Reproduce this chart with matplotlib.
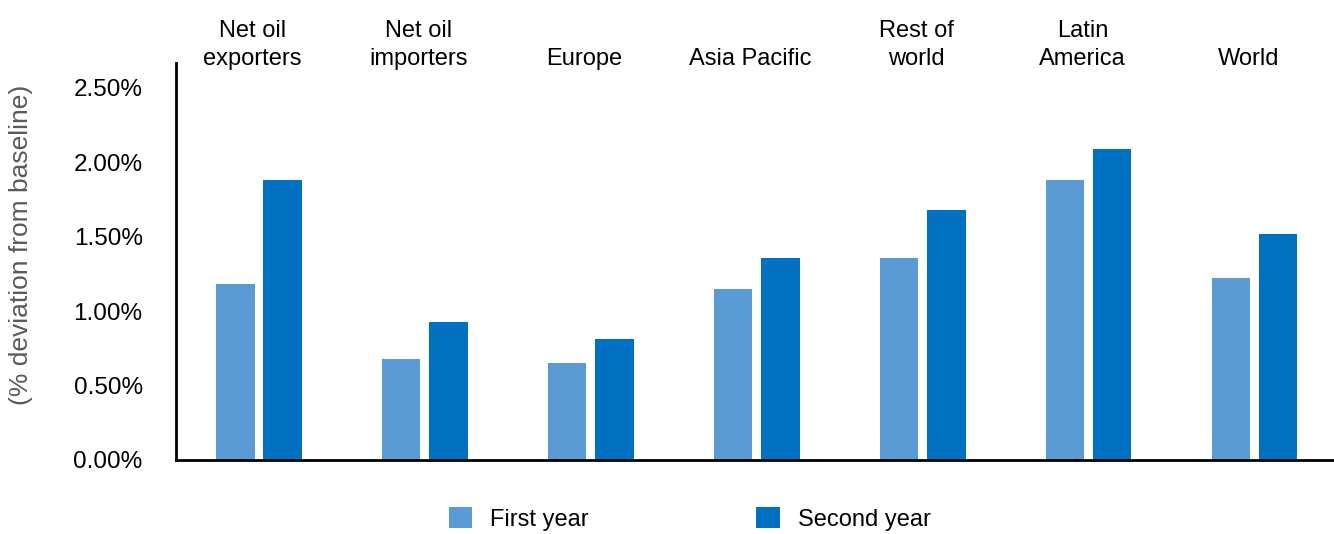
import numpy as np
import matplotlib
matplotlib.use("Agg")
import matplotlib.pyplot as plt
from matplotlib.patches import Patch
from matplotlib.ticker import FuncFormatter

plt.rcParams["font.family"] = ["Liberation Sans", "DejaVu Sans"]

# 数据 (% deviation from baseline)
regions = ["Net oil\nexporters", "Net oil\nimporters", "Europe", "Asia Pacific",
           "Rest of\nworld", "Latin\nAmerica", "World"]
first_year = [1.18, 0.68, 0.65, 1.15, 1.36, 1.88, 1.22]
second_year = [1.88, 0.93, 0.81, 1.36, 1.68, 2.09, 1.52]
series_names = ["First year", "Second year"]
colors = ["#5B9BD5", "#0070C0"]

fig = plt.figure(figsize=(13.34, 5.34), dpi=100)
ax = fig.add_axes([176 / 1334, 74 / 534, 1158 / 1334, 397 / 534])

x = np.arange(len(regions))
w = 0.229
off = 0.1416
ax.bar(x - off, first_year, w, color=colors[0])
ax.bar(x + off, second_year, w, color=colors[1])

ax.set_xlim(-0.5, 6.476)
ax.set_ylim(0, 2.668)
ax.set_yticks(np.arange(0, 2.51, 0.5))
ax.yaxis.set_major_formatter(FuncFormatter(lambda v, _: f"{v:.2f}%"))
ax.tick_params(axis="y", length=0, pad=24, labelsize=17.5)
ax.set_xticks([])

for s in ["top", "right"]:
    ax.spines[s].set_visible(False)
for s in ["left", "bottom"]:
    ax.spines[s].set_linewidth(2.0)
    ax.spines[s].set_color("black")

ax.set_ylabel("(% deviation from baseline)", fontsize=19, color="#595959")
ax.yaxis.set_label_coords(-0.1235, 0.542)

# 顶部分类标签
for xi, name in zip(x, regions):
    ax.text(xi - 0.04, 1.0 - 2 / 397, name, transform=ax.get_xaxis_transform(),
            ha="center", va="baseline", fontsize=17, linespacing=1.35)

handles = [Patch(facecolor=c, edgecolor="none") for c in colors]
fig.legend(handles, series_names, loc="center", bbox_to_anchor=(0.517, 0.028),
           ncol=2, frameon=False, fontsize=17, handlelength=1.0,
           handleheight=1.0, handletextpad=0.75, columnspacing=7.1)

fig.savefig("out.png", dpi=100)
